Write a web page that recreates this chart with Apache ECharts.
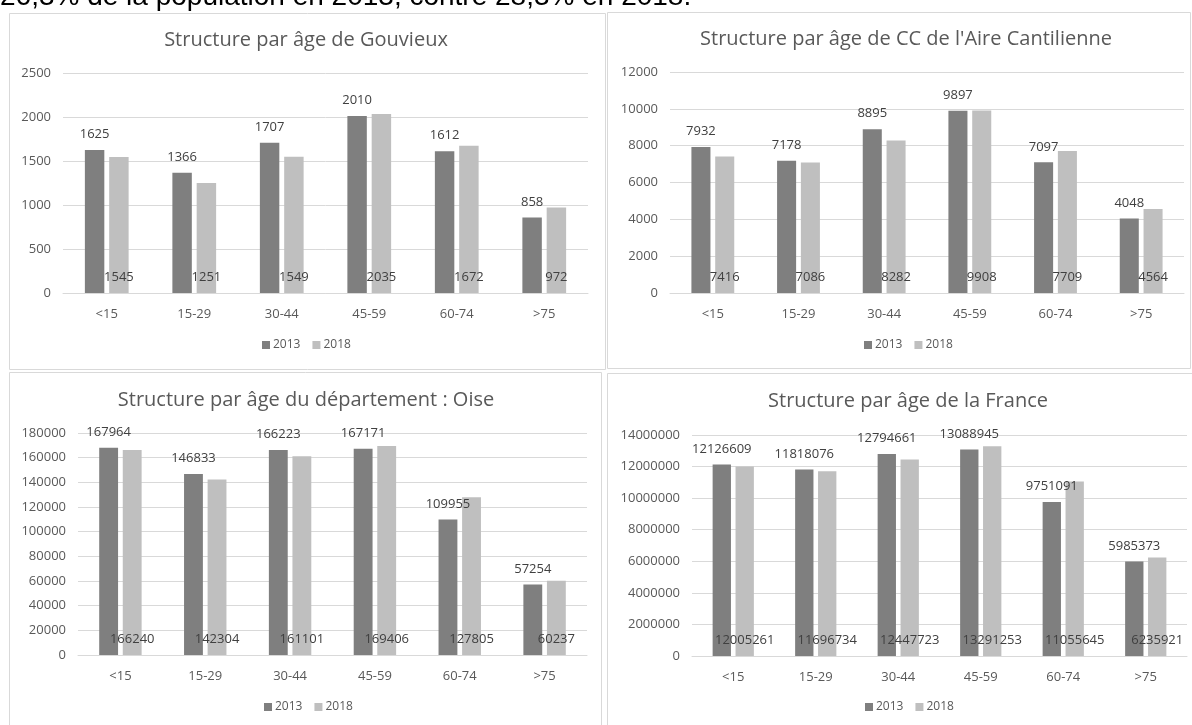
<!DOCTYPE html>
<html>
<head>
<meta charset="utf-8">
<style>
  html, body { margin: 0; padding: 0; background: #fff; }
  #chart { width: 1192px; height: 725px; }
</style>
<script src="https://cdn.jsdelivr.net/npm/echarts@6/dist/echarts.min.js"></script>
</head>
<body>
<div id="chart"></div>
<script>
// Age groups shared by all four panels
const categories = ['<15', '15-29', '30-44', '45-59', '60-74', '>75'];
const years = ['2013', '2018'];

// Gouvieux
const gouvieux2013 = [1625, 1366, 1707, 2010, 1612, 858];
const gouvieux2018 = [1545, 1251, 1549, 2035, 1672, 972];

// CC de l'Aire Cantilienne
const cc2013 = [7932, 7178, 8895, 9897, 7097, 4048];
const cc2018 = [7416, 7086, 8282, 9908, 7709, 4564];

// Département de l'Oise
const oise2013 = [167964, 146833, 166223, 167171, 109955, 57254];
const oise2018 = [166240, 142304, 161101, 169406, 127805, 60237];

// France
const france2013 = [12126609, 11818076, 12794661, 13088945, 9751091, 5985373];
const france2018 = [12005261, 11696734, 12447723, 13291253, 11055645, 6235921];

// Value axis bounds and steps per panel
const axisMax = [2500, 12000, 180000, 14000000];
const axisStep = [500, 2000, 20000, 2000000];

const titles = [
  'Structure par âge de Gouvieux',
  "Structure par âge de CC de l'Aire Cantilienne",
  'Structure par âge du département : Oise',
  'Structure par âge de la France'
];
const introText = '26,3% de la population en 2013, contre 28,3% en 2018.';

const panelData = [
  [gouvieux2013, gouvieux2018],
  [cc2013, cc2018],
  [oise2013, oise2018],
  [france2013, france2018]
];

// Layout of each panel: frame, plot area, title and legend anchors
const panels = [
  { frame: [9, 13, 596, 356],  grid: [63, 73, 525, 220],  titleX: 306, titleY: 30,  legendX: 306, legendY: 339 },
  { frame: [607, 12, 583, 356], grid: [670, 72, 514, 221], titleX: 906, titleY: 29,  legendX: 908, legendY: 339 },
  { frame: [9, 372, 592, 360], grid: [78, 433, 509, 222],  titleX: 306, titleY: 390, legendX: 308, legendY: 701 },
  { frame: [607, 373, 585, 360], grid: [692, 435, 495, 221], titleX: 908, titleY: 391, legendX: 909, legendY: 701 }
];

const FONT = "'Open Sans', 'Liberation Sans', sans-serif";
const TEXT = '#595959';
const COLORS = ['#7f7f7f', '#bfbfbf'];

const option = {
  animation: false,
  textStyle: { fontFamily: FONT },
  title: [],
  legend: [],
  grid: [],
  xAxis: [],
  yAxis: [],
  series: [],
  graphic: []
};

panels.forEach((p, i) => {
  option.graphic.push({
    type: 'rect',
    shape: { x: p.frame[0] + 0.5, y: p.frame[1] + 0.5, width: p.frame[2], height: p.frame[3] },
    style: { fill: 'none', stroke: '#d9d9d9', lineWidth: 1 },
    silent: true
  });

  option.title.push({
    text: titles[i],
    left: p.titleX,
    top: p.titleY,
    textAlign: 'center',
    padding: 0,
    textStyle: { fontFamily: FONT, fontSize: 20, fontWeight: 'normal', color: TEXT }
  });

  option.legend.push({
    data: years,
    left: p.legendX - 44,
    top: p.legendY,
    padding: 0,
    icon: 'rect',
    itemWidth: 8,
    itemHeight: 8,
    itemGap: 12,
    textStyle: { fontFamily: FONT, fontSize: 12, color: TEXT, padding: [0, 0, 0, -2] }
  });

  option.grid.push({
    left: p.grid[0], top: p.grid[1], width: p.grid[2], height: p.grid[3],
    containLabel: false
  });

  option.xAxis.push({
    type: 'category',
    gridIndex: i,
    data: categories,
    axisTick: { show: false },
    axisLine: { lineStyle: { color: '#d9d9d9' } },
    axisLabel: { color: TEXT, fontSize: 13, margin: 15, fontFamily: FONT }
  });

  option.yAxis.push({
    type: 'value',
    gridIndex: i,
    min: 0,
    max: axisMax[i],
    interval: axisStep[i],
    axisLine: { show: false },
    axisTick: { show: false },
    splitLine: { lineStyle: { color: '#d9d9d9' } },
    axisLabel: {
      color: TEXT,
      fontSize: 13,
      margin: 12,
      fontFamily: FONT,
      formatter: (v) => String(v)
    }
  });

  panelData[i].forEach((values, k) => {
    option.series.push({
      type: 'bar',
      name: years[k],
      xAxisIndex: i,
      yAxisIndex: i,
      data: values,
      barCategoryGap: '50%',
      barGap: '25%',
      itemStyle: { color: COLORS[k] },
      label: {
        show: true,
        position: k === 0 ? 'top' : 'insideBottom',
        distance: 9,
        color: '#404040',
        fontSize: 13,
        fontFamily: FONT
      }
    });
  });
});

// Closing line of the paragraph above the panels
option.graphic.push({
  type: 'text',
  x: 0,
  y: -17,
  silent: true,
  style: {
    text: introText,
    font: "28px 'Liberation Sans', sans-serif",
    fill: '#000',
    verticalAlign: 'top'
  }
});

const chart = echarts.init(document.getElementById('chart'), null, { renderer: 'canvas' });
chart.setOption(option);
</script>
</body>
</html>
